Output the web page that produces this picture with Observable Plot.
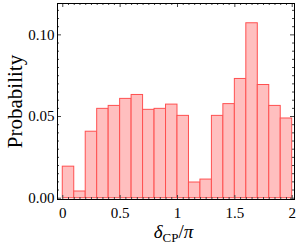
<!DOCTYPE html>
<html><head><meta charset="utf-8">
<script src="https://cdn.jsdelivr.net/npm/d3@7"></script>
<script src="https://cdn.jsdelivr.net/npm/@observablehq/plot@0.6"></script>
<style>body{margin:0;background:#fff} svg{display:block}</style>
</head><body><div id="chart"></div>
<script>
const binLower = [0.0, 0.1, 0.2, 0.3, 0.4, 0.5, 0.6, 0.7, 0.8, 0.9, 1.0, 1.1, 1.2, 1.3, 1.4, 1.5, 1.6, 1.7, 1.8, 1.9];
const binUpper = [0.1, 0.2, 0.3, 0.4, 0.5, 0.6, 0.7, 0.8, 0.9, 1.0, 1.1, 1.2, 1.3, 1.4, 1.5, 1.6, 1.7, 1.8, 1.9, 2.0];
const probability = [0.0193, 0.0041, 0.0407, 0.0547, 0.0565, 0.0608, 0.0632, 0.0541, 0.0547, 0.0573, 0.0504, 0.0096, 0.0114, 0.0504, 0.0576, 0.0730, 0.1071, 0.0693, 0.0565, 0.0488];
const xMajorTicks = [0, 0.5, 1, 1.5, 2];
const xTickLabels = ["0", "0.5", "1", "1.5", "2"];
const yMajorTicks = [0, 0.05, 0.1];
const yTickLabels = ["0.00", "0.05", "0.10"];
const xMinorTicks = [0.05,0.1,0.15,0.2,0.25,0.3,0.35,0.4,0.45,0.55,0.6,0.65,0.7,0.75,0.8,0.85,0.9,0.95,1.05,1.1,1.15,1.2,1.25,1.3,1.35,1.4,1.45,1.55,1.6,1.65,1.7,1.75,1.8,1.85,1.9,1.95];
const yMinorTicks = [0.005,0.01,0.015,0.02,0.025,0.03,0.035,0.04,0.045,0.055,0.06,0.065,0.07,0.075,0.08,0.085,0.09,0.095,0.105,0.11,0.115];
const xLabel = "δCP/π";
const yLabel = "Probability";

const bins = binLower.map((lo, i) => ({lo, hi: binUpper[i], p: probability[i]}));

const W = 299, H = 251, mL = 57, mR = 5, mT = 3, mB = 52;
const plotW = W - mL - mR, plotH = H - mT - mB;
const tickColor = "#444";

const chart = Plot.plot({
  width: W, height: H,
  marginLeft: mL, marginRight: mR, marginTop: mT, marginBottom: mB,
  style: {fontFamily: "'Liberation Serif', serif", fontSize: "15px", background: "#fff", color: "#000"},
  x: {domain: [-0.046, 2.020]},
  y: {domain: [-0.0008, 0.1192]},
  marks: [
    Plot.rectY(bins, {x1: "lo", x2: "hi", y: "p", fill: "#ffbfbf", stroke: "#ff5050", strokeWidth: 1}),
    Plot.tickX(xMinorTicks, {x: d => d, insetTop: plotH - 2, stroke: tickColor}),
    Plot.tickX(xMajorTicks, {x: d => d, insetTop: plotH - 4, stroke: tickColor}),
    Plot.tickX(xMinorTicks, {x: d => d, insetBottom: plotH - 2, stroke: tickColor}),
    Plot.tickX(xMajorTicks, {x: d => d, insetBottom: plotH - 4, stroke: tickColor}),
    Plot.tickY(yMinorTicks, {y: d => d, insetRight: plotW - 2, stroke: tickColor}),
    Plot.tickY(yMajorTicks, {y: d => d, insetRight: plotW - 4, stroke: tickColor}),
    Plot.tickY(yMinorTicks, {y: d => d, insetLeft: plotW - 2, stroke: tickColor}),
    Plot.tickY(yMajorTicks, {y: d => d, insetLeft: plotW - 4, stroke: tickColor}),
    Plot.frame({stroke: "#000"}),
    Plot.axisX(xMajorTicks, {tickSize: 0, tickPadding: 8, label: null, tickFormat: d => xTickLabels[xMajorTicks.indexOf(d)]}),
    Plot.axisY(yMajorTicks, {tickSize: 0, tickPadding: 3, label: null, tickFormat: d => yTickLabels[yMajorTicks.indexOf(d)]}),
    Plot.text([yLabel], {text: d => d, frameAnchor: "left", rotate: -90, dx: -42, fontSize: 21, textAnchor: "middle"}),
    Plot.text([xLabel], {text: d => d, frameAnchor: "bottom", dy: 38, dx: -2.5, fontSize: 19, textAnchor: "middle"})
  ]
});

document.getElementById("chart").appendChild(chart);

d3.select(chart).selectAll("text").filter(function() { return this.textContent === xLabel; }).each(function() {
  const t = d3.select(this);
  t.text(null);
  t.append("tspan").attr("font-style", "italic").text("δ");
  t.append("tspan").attr("font-size", 13).attr("dy", 4).text("CP");
  t.append("tspan").attr("dy", -4).text("/");
  t.append("tspan").attr("font-style", "italic").text("π");
});
</script>
</body></html>
